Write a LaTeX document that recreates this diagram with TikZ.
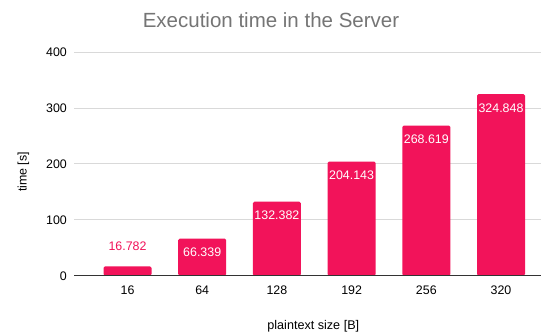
\documentclass[tikz,border=0pt]{standalone}
\usepackage{fontspec}
\setmainfont{Liberation Sans}
\usepackage{xcolor}
\usetikzlibrary{positioning,calc}
\definecolor{barpink}{HTML}{F2135A}
\definecolor{titlegray}{HTML}{757575}
\definecolor{gridgray}{HTML}{D9D9D9}
\definecolor{axisgray}{HTML}{333333}
\tikzset{
    % barres du diagramme
    bar/.style={fill=barpink, rounded corners=1.5pt},
    % valeurs dans / au-dessus des barres
    valin/.style={text=white, anchor=base, inner sep=0pt, font=\fontsize{12.4}{14}\selectfont},
    valout/.style={valin, text=barpink},
    % graduations
    ytick/.style={anchor=base east, inner sep=0pt, font=\fontsize{12.4}{14}\selectfont},
    xtick/.style={anchor=base, inner sep=0pt, font=\fontsize{12.4}{14}\selectfont},
    grid_line/.style={draw=gridgray, line width=0.9pt}
}

\begin{document}
\begin{tikzpicture}[x=1pt,y=1pt]
        \useasboundingbox (0,0) rectangle (545,334);
        \fill[white] (0,0) rectangle (545,334);

        % --- 1. Grille et axes ---
        \foreach \v in {100,200,300,400} {
            \pgfmathsetmacro{\yy}{58.3+0.559*\v}
            \draw[grid_line] (74,\yy) -- (541,\yy);
            \node[ytick] (y\v) at (67,\yy-4.45) {\v};
        }
        \node[ytick] (y0) at (67,58.3-4.45) {0};

        % --- 2. Barres ---
        \foreach \i/\lab/\val in {0/16/16.782,1/64/66.339,2/128/132.382,3/192/204.143,4/256/268.619,5/320/324.848} {
            \pgfmathsetmacro{\xc}{127.5+74.7*\i}
            \pgfmathsetmacro{\yt}{58.3+0.559*\val}
            \fill[bar] (\xc-24,58.3) -- (\xc-24,\yt) -- (\xc+24,\yt) -- (\xc+24,58.3) -- cycle;
            \node[xtick] (x\lab) at (\xc,39.3) {\lab};
        }
        \draw[draw=axisgray, line width=0.9pt] (74,58.3) -- (541,58.3);

        % valeurs
        \node[valout] (v16)  at (127.5, 83)                  {16.782};
        \node[valin]  (v64)  at (202.2, 58.3+0.559*66.339-18.2)  {66.339};
        \node[valin]  (v128) at (276.9, 58.3+0.559*132.382-18.2) {132.382};
        \node[valin]  (v192) at (351.6, 58.3+0.559*204.143-18.2) {204.143};
        \node[valin]  (v256) at (426.3, 58.3+0.559*268.619-18.2) {268.619};
        \node[valin]  (v320) at (501.0, 58.3+0.559*324.848-18.2) {324.848};

        % --- 3. Titres ---
        \node[anchor=base, inner sep=0pt, text=titlegray, font=\fontsize{20.5}{24}\selectfont] (title) at (271,306.3) {Execution time in the Server};
        \node[anchor=base, inner sep=0pt, font=\fontsize{12.6}{14}\selectfont] (xtitle) at (313.3,4.7) {plaintext size [B]};
        \node[anchor=base, inner sep=0pt, rotate=90, font=\fontsize{12.4}{14}\selectfont] (ytitle) at (26.5,162) {time [s]};
    \end{tikzpicture}
\end{document}
